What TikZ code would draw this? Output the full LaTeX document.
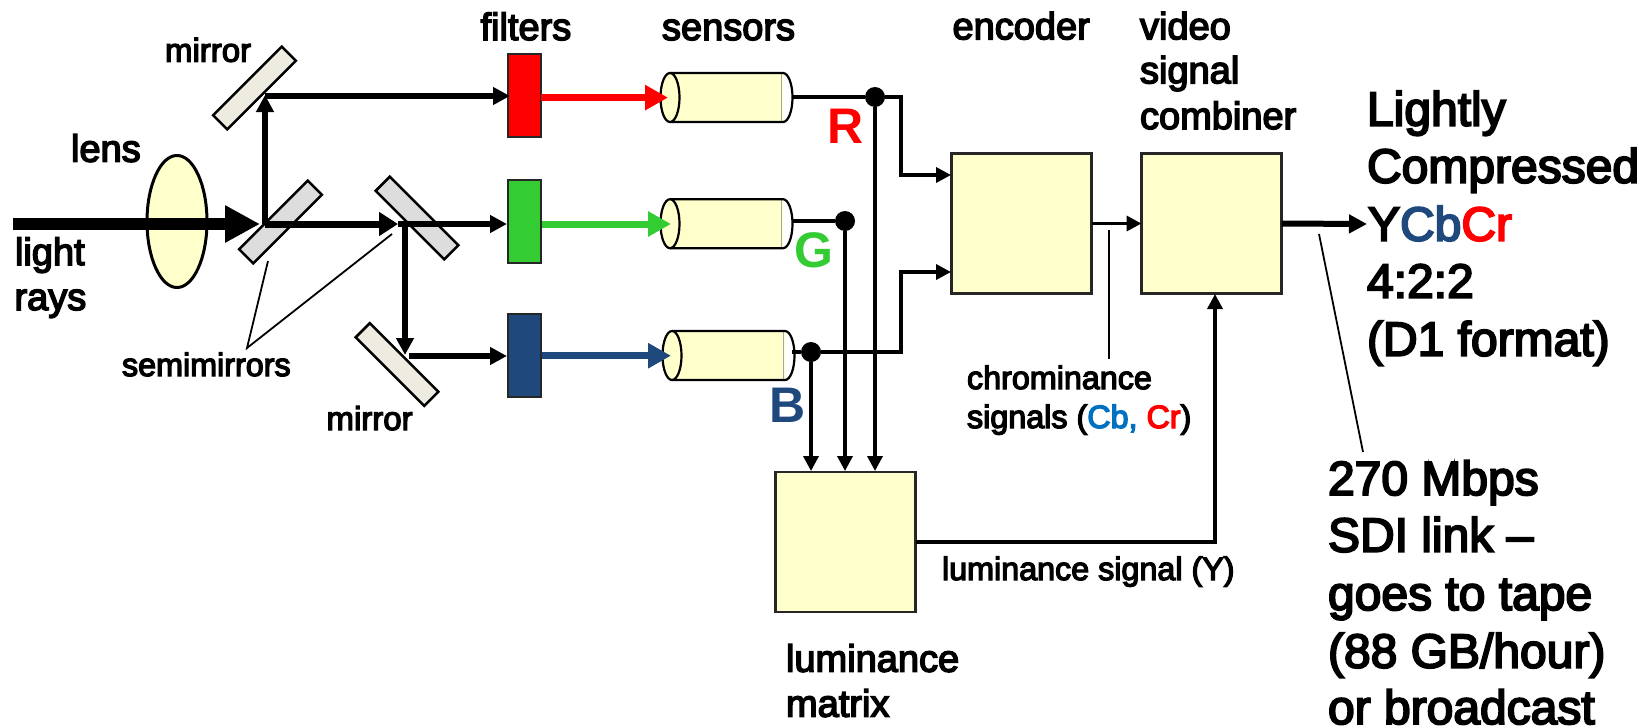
\documentclass[tikz,border=0pt]{standalone}
\usepackage{fontspec}
\usetikzlibrary{arrows.meta,calc,shapes.geometric}
\setmainfont[RawFeature={embolden=4}]{Liberation Sans}
\newfontfamily\boldf{Liberation Sans Bold}
\definecolor{cream}{HTML}{FFFFCC}
\definecolor{mirrorc}{HTML}{EEECE1}
\definecolor{semic}{HTML}{DDDDDD}
\definecolor{rr}{HTML}{FF0000}
\definecolor{gg}{HTML}{33CC33}
\definecolor{bb}{HTML}{1F497D}
\definecolor{cbc}{HTML}{0070C0}
\newcommand{\fs}[1]{\fontsize{#1pt}{#1pt}\selectfont}
\tikzset{
  x=1pt,y=-1pt,
  >={Triangle[length=17pt,width=17pt]},
  every node/.style={inner sep=0pt,outer sep=0pt},
  mirrorbox/.style={draw=black,line width=2.6pt,fill=mirrorc,minimum width=97pt,minimum height=20pt},
  semibox/.style={draw=black,line width=2.6pt,fill=semic,minimum width=97pt,minimum height=20pt},
  filterbox/.style={draw=black!85,line width=2.4pt,minimum width=33pt,minimum height=83pt},
  bigbox/.style={draw=black!85,line width=2.4pt,fill=cream,minimum width=140pt,minimum height=140pt},
  sensorbox/.style={minimum width=132pt,minimum height=49pt},
  dot/.style={circle,fill=black,minimum size=20pt},
  ray/.style={line width=5.5pt,->},
  wire/.style={line width=3.5pt},
  wirearrow/.style={line width=3.5pt,-{Triangle[length=15pt,width=15pt]}},
  leader/.style={line width=1.8pt},
  colray/.style={line width=7pt,-{Triangle[length=23pt,width=24pt]}},
  small/.style={font=\fs{32.3},anchor=base west},
  mid/.style={font=\fs{38},anchor=base west},
  big/.style={font=\fs{48},anchor=base west},
  channel/.style={font=\boldf\fs{50},anchor=base west},
}
\newcommand{\sensorshape}[2]{%
  \fill[white] (#1+113,#2-24.5) arc[start angle=-90,end angle=90,x radius=9.5,y radius=24.5] -- cycle;
  \fill[cream] (#1,#2-24.5) -- (#1+113,#2-24.5) -- (#1+113,#2+24.5) -- (#1,#2+24.5) -- cycle;
  \draw[black!35,line width=1pt] (#1+111,#2-24) -- (#1+111,#2+24);
  \draw[line width=2.2pt] (#1,#2-24.5) -- (#1+113,#2-24.5) arc[start angle=-90,end angle=90,x radius=9.5,y radius=24.5] -- (#1,#2+24.5);
  \draw[line width=2.2pt,fill=cream] (#1,#2) ellipse[x radius=9.5,y radius=24.5];
}
\begin{document}
\begin{tikzpicture}
\useasboundingbox (0,0) rectangle (1651,726);

% optical elements
\node[draw=black,line width=3pt,fill=cream,ellipse,minimum width=60pt,minimum height=132pt] (lens) at (177,221.5) {};
\node[mirrorbox,rotate=45] (m1) at (254.5,88) {};
\node[semibox,rotate=45] (s1) at (280.5,222) {};
\node[semibox,rotate=-45] (s2) at (417,218) {};
\node[mirrorbox,rotate=-45] (m2) at (397,364.5) {};

% filters
\node[filterbox,fill=rr] (fr) at (524.5,95.5) {};
\node[filterbox,fill=gg] (fg) at (524.5,221.5) {};
\node[filterbox,fill=bb] (fb) at (524.5,355.5) {};

% sensors
\sensorshape{670}{97.5}
\sensorshape{670}{223.7}
\sensorshape{672}{355.5}
\node[sensorbox] (sr) at (726.5,97.5) {};
\node[sensorbox] (sg) at (726.5,223.7) {};
\node[sensorbox] (sb) at (728,355.5) {};

% processing boxes
\node[bigbox] (enc) at (1021.5,223.5) {};
\node[bigbox] (comb) at (1211.5,223.5) {};
\node[bigbox] (lum) at (845.5,542) {};

% named points on the beams
\coordinate (in) at (13,224);
\coordinate (hit1) at (260,224);
\coordinate (up) at (265,224);
\coordinate (top) at (265,95);
\coordinate (topst) at (265,96);
\coordinate (topend) at (510,96);
\coordinate (hit2) at (398,224);
\coordinate (gend) at (507,224);
\coordinate (dn) at (405,224);
\coordinate (dnend) at (405,355);
\coordinate (bst) at (409,356);
\coordinate (bend) at (507,356);

% beams
\draw[line width=12pt,-{Triangle[length=35pt,width=35pt]}] (in) -- (hit1);
\draw[ray] (up) -- (top);
\draw[ray] (topst) -- (topend);
\draw[line width=7pt,-{Triangle[length=19pt,width=23pt]}] (up) -- (hit2);
\draw[ray] (hit2) -- (gend);
\draw[ray] (dn) -- (dnend);
\draw[ray] (bst) -- (bend);

% coloured beams
\coordinate (crs) at (541,97.6);\coordinate (cre) at (668,97.6);
\coordinate (cgs) at (542,224);\coordinate (cge) at (671,224);
\coordinate (cbs) at (542,355.7);\coordinate (cbe) at (671,355.7);
\draw[colray,draw=rr] (crs) -- (cre);
\draw[colray,draw=gg] (cgs) -- (cge);
\draw[colray,draw=bb] (cbs) -- (cbe);

% dots
\node[dot] (dr) at (875,97) {};
\node[dot] (dg) at (845,221) {};
\node[dot] (db) at (811,352) {};

% corners
\coordinate (ore) at (792,97);
\coordinate (oge) at (792,221);
\coordinate (obe) at (792,352);
\coordinate (crt) at (901,97);
\coordinate (crb) at (901,175);
\coordinate (enct) at (951,175);
\coordinate (cbt) at (901,352);
\coordinate (cbb) at (901,272);
\coordinate (encb) at (951,272);
\coordinate (lr) at (875,471);
\coordinate (lg) at (845,471);
\coordinate (lb) at (811,471);
\coordinate (ly) at (1215,542);
\coordinate (ls) at (916,542);
\coordinate (cy) at (1215,294);
\coordinate (ot) at (1367,224);

% wires
\draw[wire] (ore) -- (dr);
\draw[wirearrow] (dr) -- (crt) -- (crb) -- (enct);
\draw[wire] (oge) -- (dg);
\draw[wire] (obe) -- (db);
\draw[wirearrow] (db) -- (cbt) -- (cbb) -- (encb);
\draw[wirearrow] (dr) -- (lr);
\draw[wirearrow] (dg) -- (lg);
\draw[wirearrow] (db) -- (lb);
\draw[wirearrow] (enc.east) -- (comb.west);
\draw[line width=6pt,-{Triangle[length=18pt,width=18pt]}] (comb.east) -- (ot);
\draw[wirearrow] (ls) -- (ly) -- (cy);

% leaders
\coordinate (sm) at (247,348);
\coordinate (sa) at (268,261);
\coordinate (sc) at (392,234);
\coordinate (ca) at (1109,230);
\coordinate (cb) at (1109,359);
\coordinate (oa) at (1319,234);
\coordinate (ob) at (1363,452);
\draw[leader] (sa) -- (sm) -- (sc);
\draw[leader] (ca) -- (cb);
\draw[leader] (oa) -- (ob);

% labels
\node[small,font=\fs{33}] (tm1) at (165,61.7) {mirror};
\node[small,font=\fs{33}] (tm2) at (326.5,430) {mirror};
\node[small] (tsm) at (122,376) {semimirrors};
\node[mid] (tl) at (71,161.7) {lens};
\node[mid] (tlight) at (15,265) {light};
\node[mid] (trays) at (14.5,310) {rays};
\node[mid] (tf) at (480.5,40) {filters};
\node[mid] (ts) at (662,40) {sensors};
\node[mid] (te) at (952.5,39.3) {encoder};
\node[mid] (tv1) at (1140,39.3) {video};
\node[mid] (tv2) at (1140,83.3) {signal};
\node[mid] (tv3) at (1140,129) {combiner};
\node[mid] (tlm1) at (786,671.7) {luminance};
\node[mid] (tlm2) at (786,716.7) {matrix};
\node[small] (tc1) at (967,389) {chrominance};
\node[small] (tc2) at (967,428) {signals (\textcolor{cbc}{Cb,} \textcolor{rr}{Cr})};
\node[small] (tys) at (942,580) {luminance signal (Y)};
\node[channel,text=rr] (tr) at (827.5,143) {R};
\node[channel,text=gg] (tg) at (794,267) {G};
\node[channel,text=bb] (tb) at (769.5,422.7) {B};

\node[big] (a1) at (1367,125.7) {Lightly};
\node[big] (a2) at (1367,182.7) {Compressed};
\node[big] (a3) at (1368,240.7) {Y\textcolor{bb}{Cb}\textcolor{rr}{Cr}};
\node[big] (a4) at (1367,297.7) {4:2:2};
\node[big] (a5) at (1367,355.7) {(D1 format)};
\node[big] (b1) at (1328,495) {270 Mbps};
\node[big] (b2) at (1328,551.7) {SDI link –};
\node[big] (b3) at (1328,610) {goes to tape};
\node[big] (b4) at (1328,667.7) {(88 GB/hour)};
\node[big] (b5) at (1328,724) {or broadcast};
\end{tikzpicture}
\end{document}
